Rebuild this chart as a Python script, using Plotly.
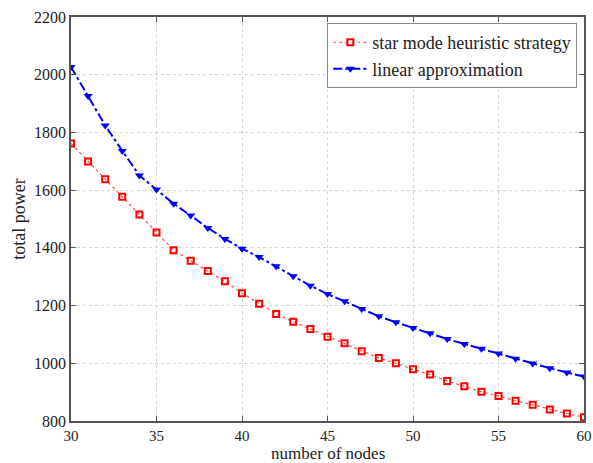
import plotly.graph_objects as go

nodes = list(range(30, 61))
star_mode = [1762, 1699, 1638, 1577, 1516, 1453, 1392, 1355, 1320, 1284, 1243,
             1206, 1171, 1144, 1119, 1092, 1069, 1042, 1018, 1000, 979,
             961, 939, 920, 901, 887, 870, 856, 840, 826, 813]
linear_approx = [2027, 1926, 1824, 1736, 1651, 1602, 1553, 1512, 1469, 1431, 1397,
                 1368, 1336, 1302, 1269, 1240, 1215, 1188, 1163, 1142, 1122,
                 1104, 1084, 1067, 1050, 1034, 1016, 999, 983, 968, 954]
x_ticks = [30, 35, 40, 45, 50, 55, 60]
y_ticks = [800, 1000, 1200, 1400, 1600, 1800, 2000, 2200]

font = "Liberation Serif, Times New Roman, serif"

fig = go.Figure()
fig.add_trace(go.Scatter(
    x=nodes, y=star_mode, name="star mode heuristic strategy",
    mode="lines+markers",
    line=dict(color="#ff5050", width=1.2, dash="dot"),
    marker=dict(symbol="square-open", size=6, color="#ff0000",
                line=dict(width=2, color="#ff0000")),
))
fig.add_trace(go.Scatter(
    x=nodes, y=linear_approx, name="linear approximation",
    mode="lines+markers",
    line=dict(color="#0000ff", width=2, dash="dashdot"),
    marker=dict(symbol="triangle-down", size=8, color="#0000ff"),
))

axis_common = dict(
    showline=True, linecolor="#555555", linewidth=1.5, mirror="ticks",
    ticks="inside", ticklen=5, tickcolor="#555555",
    showgrid=True, gridcolor="#d4d4d4", griddash="dot", gridwidth=1,
    zeroline=False, automargin=False,
    tickfont=dict(family=font, size=16, color="#222"),
)
fig.update_xaxes(range=[30, 60], tickvals=x_ticks, **axis_common)
fig.update_xaxes(tickfont=dict(size=15))
fig.update_yaxes(range=[800, 2200], tickvals=y_ticks,
                 title=dict(text="total power", font=dict(family=font, size=18, color="#222"), standoff=4),
                 **axis_common)

fig.add_annotation(text="number of nodes", x=0.5, y=0, xref="paper", yref="paper",
                   xanchor="center", yanchor="top", yshift=-21, showarrow=False,
                   font=dict(family=font, size=17, color="#222"))

fig.update_layout(
    width=593, height=463,
    margin=dict(l=71, r=9, t=17, b=42),
    paper_bgcolor="white", plot_bgcolor="white",
    font=dict(family=font, color="#222"),
    legend=dict(x=0.987, y=0.985, xanchor="right", yanchor="top",
                bgcolor="white", bordercolor="#888888", borderwidth=1,
                font=dict(family=font, size=18, color="#222"),
                tracegroupgap=0, itemwidth=34),
    showlegend=True,
)

fig.write_html("out.html")
